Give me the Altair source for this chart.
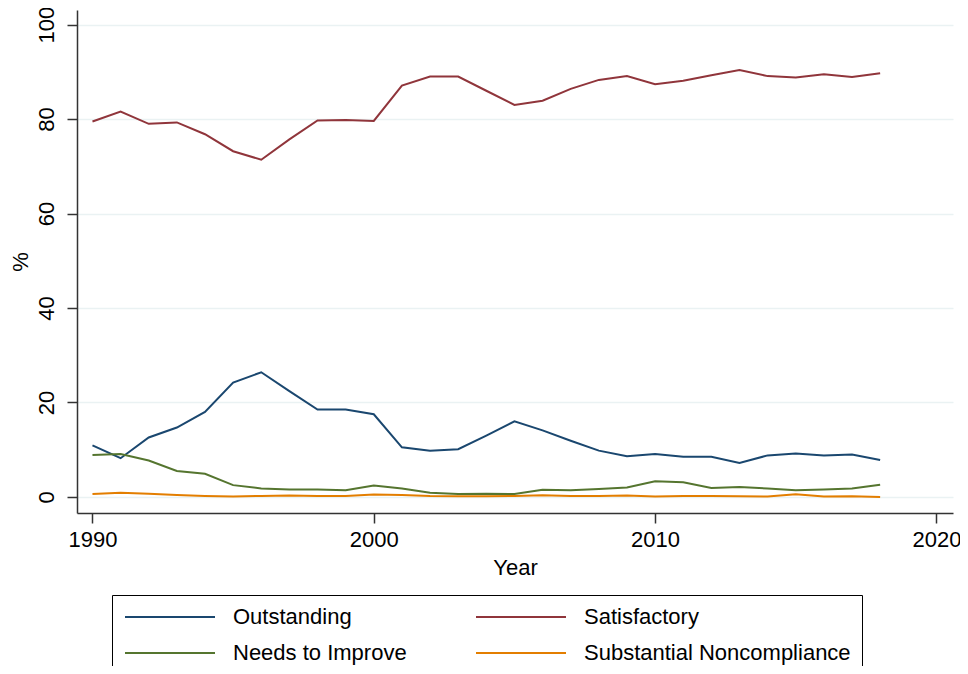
import altair as alt
import pandas as pd

years = list(range(1990, 2019))

outstanding = [10.9, 8.2, 12.6, 14.7, 18.0, 24.2, 26.4, 22.4, 18.5, 18.5, 17.5, 10.5, 9.8, 10.1, 13.0,
               16.0, 14.1, 11.9, 9.8, 8.6, 9.1, 8.5, 8.5, 7.2, 8.8, 9.2, 8.8, 9.0, 7.8]
satisfactory = [79.5, 81.6, 79.0, 79.3, 76.8, 73.2, 71.4, 75.7, 79.7, 79.8, 79.6, 87.1, 89.0, 89.0, 86.0,
                83.0, 83.9, 86.4, 88.3, 89.1, 87.4, 88.1, 89.3, 90.4, 89.1, 88.8, 89.5, 88.9, 89.7]
needs_improve = [8.9, 9.1, 7.7, 5.5, 4.9, 2.5, 1.8, 1.6, 1.6, 1.4, 2.4, 1.8, 0.9, 0.6, 0.7,
                 0.6, 1.5, 1.4, 1.7, 2.0, 3.3, 3.1, 1.9, 2.1, 1.8, 1.4, 1.6, 1.8, 2.6]
noncompliance = [0.6, 0.9, 0.7, 0.4, 0.2, 0.1, 0.2, 0.3, 0.2, 0.2, 0.5, 0.4, 0.2, 0.15, 0.15,
                 0.2, 0.35, 0.2, 0.2, 0.3, 0.1, 0.2, 0.2, 0.15, 0.1, 0.55, 0.1, 0.15, 0.0]

series = ["Outstanding", "Satisfactory", "Needs to Improve", "Substantial Noncompliance"]
colors = ["#1a476f", "#90353b", "#55752f", "#e37e00"]   # Stata s2color: navy, maroon, forest green, dark orange

frames = []
for name, vals in zip(series, [outstanding, satisfactory, needs_improve, noncompliance]):
    frames.append(pd.DataFrame({"year": years, "pct": vals, "rating": name}))
df = pd.concat(frames, ignore_index=True)

FONT = "Liberation Sans"

chart = (
    alt.Chart(df)
    .mark_line(strokeWidth=2)
    .encode(
        x=alt.X("year:Q", title="Year",
                scale=alt.Scale(domain=[1989.45, 2020.59], nice=False, zero=False),
                axis=alt.Axis(values=[1990, 2000, 2010, 2020], format="d", grid=False,
                              labelPadding=6, titlePadding=7)),
        y=alt.Y("pct:Q", title="%",
                scale=alt.Scale(domain=[-3.4, 103.1], nice=False, zero=False),
                axis=alt.Axis(values=[0, 20, 40, 60, 80, 100], grid=True,
                              labelAngle=270, labelAlign="center", labelBaseline="bottom",
                              labelPadding=9, titleAngle=270, titlePadding=3)),
        color=alt.Color("rating:N", sort=series, title=None,
                        scale=alt.Scale(domain=series, range=colors),
                        legend=alt.Legend(orient="none", legendX=35, legendY=585, columns=2,
                                          direction="horizontal",
                                          symbolType="M-1,0H9", symbolSize=324, symbolStrokeWidth=2,
                                          labelOffset=88, columnPadding=65, rowPadding=14,
                                          padding=11, strokeColor="#000000",
                                          labelFontSize=22, labelFont=FONT, labelColor="#000000",
                                          labelLimit=400)),
    )
    .properties(width=876, height=503,
                autosize=alt.AutoSizeParams(type="none"),
                padding={"left": 69, "top": 2, "right": 7, "bottom": 153})
    .configure_view(stroke=None)
    .configure_axis(labelFont=FONT, titleFont=FONT, labelFontSize=22, titleFontSize=22,
                    labelColor="#000000", titleColor="#000000", titleFontWeight="normal",
                    domainColor="#333333", domainWidth=1.5, tickColor="#333333", tickSize=10,
                    tickWidth=1.5, gridColor="#eaf2f3", gridWidth=1.5)
)

chart.save("out.html", embed_options={"renderer": "svg", "actions": False})
